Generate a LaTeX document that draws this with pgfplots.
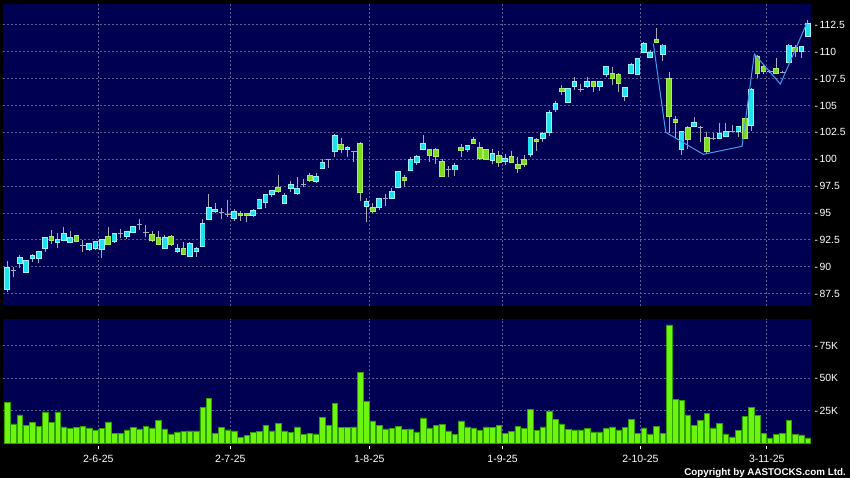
\documentclass[border=0pt]{standalone}
\usepackage{fontspec}
\setmainfont{Liberation Sans}
\usepackage{pgfplots}
\usepackage{pgfplotstable}
\pgfplotsset{compat=1.18}
\definecolor{bgnavy}{RGB}{0,0,82}
\definecolor{gridc}{RGB}{95,95,150}
\definecolor{upc}{RGB}{30,225,240}
\definecolor{upedge}{RGB}{150,245,255}
\definecolor{dnc}{RGB}{125,220,30}
\definecolor{dnedge}{RGB}{170,235,110}
\definecolor{wickc}{RGB}{170,170,180}
\definecolor{volfill}{RGB}{110,245,15}
\definecolor{voledge}{RGB}{45,160,0}
\definecolor{linec}{RGB}{70,155,235}

\pgfplotstableread{
i O H L C t
1 87.89 90.53 87.68 89.94 1
2 89.60 89.94 89.07 89.60 0
3 90.31 91.09 89.85 90.81 1
4 89.44 90.62 89.44 90.53 1
5 90.75 91.18 90.41 91.06 1
6 90.78 91.49 90.31 91.43 1
7 91.68 92.73 91.40 92.70 1
8 92.82 93.40 92.08 92.45 -1
9 92.27 93.10 91.77 92.55 1
10 92.45 93.66 92.38 93.10 1
11 92.27 93.35 92.17 92.73 1
12 92.89 92.95 92.27 92.33 -1
13 91.95 92.48 91.40 91.95 0
14 91.62 92.23 91.49 92.17 1
15 91.68 92.42 91.55 92.36 1
16 91.62 92.54 90.84 92.48 1
17 92.79 93.66 91.99 92.08 -1
18 92.33 93.16 92.24 93.10 1
19 93.07 93.48 92.64 93.07 0
20 92.79 93.29 92.55 93.23 1
21 93.20 93.82 93.10 93.76 1
22 93.88 94.41 93.40 93.88 0
23 93.17 93.88 92.73 93.17 0
24 93.01 93.32 92.33 92.42 -1
25 92.67 93.32 92.02 92.11 -1
26 91.68 92.95 91.62 92.73 1
27 92.82 92.95 91.95 92.05 -1
28 91.40 92.08 91.24 91.71 1
29 91.68 92.27 91.06 91.15 -1
30 90.93 92.27 90.87 92.17 1
31 91.46 91.86 90.93 91.71 1
32 91.86 94.41 91.80 94.03 1
33 94.41 96.76 94.35 95.52 1
34 95.12 95.90 95.03 95.34 1
35 95.03 95.49 94.41 95.03 0
36 94.87 96.20 94.65 94.87 0
37 94.50 95.34 94.25 95.12 1
38 94.90 95.21 94.28 94.75 -1
39 94.90 94.96 94.19 94.75 -1
40 94.75 95.40 94.60 95.18 1
41 95.40 96.26 95.34 96.20 1
42 95.96 96.76 95.43 96.67 1
43 96.73 97.13 96.51 97.07 1
44 97.38 98.53 96.89 96.98 -1
45 95.86 96.89 95.80 96.58 1
46 97.29 97.97 96.98 97.60 1
47 96.79 98.31 96.67 97.23 1
48 97.60 98.16 97.38 97.60 0
49 98.50 98.68 97.91 98.06 -1
50 97.91 98.68 97.75 98.41 1
51 99.18 99.99 99.09 99.65 1
52 99.99 100.00 99.18 99.99 0
53 100.70 102.31 100.24 102.16 1
54 101.38 101.94 100.55 100.92 -1
55 100.92 101.26 100.24 101.07 1
56 100.76 100.76 99.77 100.76 0
57 101.41 101.57 96.14 96.92 -1
58 95.58 96.36 94.19 96.08 1
59 95.46 95.90 94.96 95.12 -1
60 95.49 96.42 95.27 96.36 1
61 96.36 96.76 95.65 96.36 0
62 96.39 97.35 96.33 96.95 1
63 97.38 98.93 97.32 98.81 1
64 98.31 98.53 97.38 98.06 -1
65 98.93 100.24 98.87 99.93 1
66 99.71 100.39 99.46 100.24 1
67 100.92 102.25 100.86 101.48 1
68 100.86 100.92 99.77 100.33 -1
69 100.92 101.01 99.55 100.24 -1
70 99.77 99.99 98.32 98.38 -1
71 99.00 99.37 98.38 99.00 0
72 99.00 99.62 98.47 99.43 1
73 101.10 101.41 100.17 100.79 -1
74 100.92 101.35 100.64 101.29 1
75 101.79 102.03 101.42 101.48 -1
76 101.10 101.57 99.93 100.08 -1
77 100.86 100.95 99.93 100.02 -1
78 99.86 100.92 99.55 100.55 1
79 100.30 100.73 99.30 99.71 -1
80 99.77 100.48 99.46 100.05 1
81 100.24 100.76 99.65 99.71 -1
82 99.52 100.24 98.69 99.12 -1
83 99.99 100.39 99.30 99.52 -1
84 100.45 102.09 100.24 102.03 1
85 101.85 101.94 100.79 101.66 -1
86 101.91 102.56 101.63 102.41 1
87 102.50 104.58 102.16 104.36 1
88 104.58 105.45 104.42 105.14 1
89 106.59 106.90 105.97 106.28 -1
90 105.29 106.59 105.20 106.53 1
91 106.75 107.62 106.44 107.18 1
92 106.53 106.96 106.22 106.53 0
93 106.75 107.68 106.65 107.18 1
94 107.18 107.24 106.22 106.75 -1
95 106.75 107.24 106.34 107.18 1
96 107.90 108.64 107.68 108.58 1
97 107.99 108.55 106.90 107.52 -1
98 107.90 107.99 106.28 107.06 -1
99 105.82 106.75 105.45 106.69 1
100 107.99 108.92 107.93 108.83 1
101 107.90 109.44 107.84 109.38 1
102 109.91 110.93 109.85 110.78 1
103 109.48 110.16 109.39 109.88 1
104 111.09 112.17 110.78 110.84 -1
105 109.76 110.68 109.17 110.62 1
106 107.52 108.08 102.41 103.96 -1
107 103.71 104.00 101.94 103.46 -1
108 100.92 102.62 100.39 102.56 1
109 102.97 103.09 100.92 101.85 -1
110 103.03 103.90 102.97 103.43 1
111 102.97 103.06 101.63 102.97 0
112 102.00 102.56 100.55 100.76 -1
113 101.94 102.47 101.79 101.94 0
114 101.94 103.34 101.85 102.41 1
115 102.16 103.34 102.10 102.56 1
116 102.62 103.18 102.50 102.62 0
117 102.56 103.12 102.10 103.03 1
118 103.77 103.86 101.88 101.94 -1
119 103.18 106.59 102.62 106.50 1
120 109.54 109.69 107.58 107.99 -1
121 108.61 108.76 107.89 108.14 -1
122 108.14 108.30 107.99 108.14 0
123 108.45 109.38 107.93 107.99 -1
124 108.10 108.20 107.99 108.10 0
125 109.01 110.68 108.92 110.62 1
126 110.37 110.62 109.54 109.99 -1
127 109.99 110.56 109.44 110.50 1
128 111.46 112.95 111.40 112.64 1
}\ohlc

\pgfplotstableread{
i V
1 31.5
2 14.9
3 21.8
4 13.8
5 15.9
6 12.8
7 24.1
8 16.2
9 24.1
10 12.6
11 11.3
12 12.1
13 12.8
14 11.8
15 10.0
16 11.3
17 16.4
18 7.4
19 7.4
20 10.3
21 12.3
22 11.0
23 13.1
24 11.8
25 17.9
26 11.0
27 7.2
28 8.7
29 9.2
30 9.5
31 9.5
32 27.7
33 34.4
34 7.9
35 12.3
36 10.3
37 9.5
38 4.4
39 5.9
40 8.5
41 9.2
42 13.8
43 9.5
44 15.6
45 9.5
46 8.5
47 12.6
48 6.7
49 7.4
50 7.2
51 19.7
52 13.8
53 30.8
54 12.1
55 12.1
56 12.6
57 54.4
58 32.3
59 17.2
60 13.6
61 11.0
62 11.3
63 12.8
64 10.5
65 11.0
66 8.7
67 19.5
68 11.8
69 13.8
70 14.6
71 9.5
72 6.9
73 17.2
74 12.6
75 11.8
76 9.7
77 12.6
78 12.1
79 13.6
80 7.9
81 9.2
82 13.1
83 11.3
84 25.9
85 10.0
86 12.6
87 24.9
88 18.2
89 14.9
90 10.8
91 10.3
92 10.3
93 11.3
94 8.7
95 8.7
96 11.3
97 12.6
98 10.3
99 12.3
100 18.5
101 7.9
102 11.8
103 7.2
104 12.8
105 7.9
106 91.0
107 33.8
108 32.8
109 21.8
110 13.8
111 17.7
112 23.1
113 11.8
114 15.1
115 7.2
116 4.9
117 9.7
118 20.5
119 27.9
120 21.3
121 7.9
122 4.1
123 6.9
124 7.7
125 17.4
126 6.9
127 6.4
128 4.1
}\vol

\begin{document}
\begin{tikzpicture}
\fill[black] (0,0) rectangle (850pt,478pt);
\pgfplotsset{
  every axis/.append style={
    scale only axis, anchor=south west,
    xmin=0.413, xmax=128.52,
    axis background/.style={fill=bgnavy},
    axis line style={draw=none},
    xtick={15.45,36.4,58.45,79.6,101.45,121.5},
    grid=major,
    grid style={draw=gridc, line width=0.8pt, dash pattern=on 2pt off 2pt},
    major tick length=0pt,
    tick style={draw=none},
    yticklabel pos=right,
    yticklabel style={text=white, font=\fontsize{10.4}{12}\selectfont, anchor=west},
    /pgf/number format/assume math mode=true,
  },
  candle/.style={draw=none, mark=none, forget plot},
}
% ---------------- price panel ----------------
\begin{axis}[
  at={(3.5pt,172pt)}, width=807.5pt, height=302pt,
  ymin=86.34, ymax=114.44,
  ytick={87.5,90,92.5,95,97.5,100,102.5,105,107.5,110,112.5},
  yticklabel={-\kern1.6pt\pgfmathprintnumber{\tick}},
  xticklabels={},
]
% wicks
\addplot[candle,
  error bars/.cd, y dir=plus, y explicit, error mark=none,
  error bar style={draw=wickc, line width=1pt, solid}]
  table[x=i, y=L, y error plus expr={\thisrow{H}-\thisrow{L}}] {\ohlc};
% doji
\addplot[candle,
  restrict expr to domain={\thisrow{t}}{-0.5:0.5},
  error bars/.cd, x dir=both, x fixed=0.43, error mark=none,
  error bar style={draw=wickc, line width=1pt, solid}]
  table[x=i, y=C] {\ohlc};
% up bodies: edge then fill
\addplot[candle,
  restrict expr to domain={\thisrow{t}}{0.5:1.5},
  error bars/.cd, y dir=plus, y explicit, error mark=none,
  error bar style={draw=upedge, line width=5.6pt, solid}]
  table[x=i, y expr={\thisrow{O}-0.05}, y error plus expr={\thisrow{C}-\thisrow{O}+0.1}] {\ohlc};
\addplot[candle,
  restrict expr to domain={\thisrow{t}}{0.5:1.5},
  error bars/.cd, y dir=plus, y explicit, error mark=none,
  error bar style={draw=upc, line width=3.8pt, solid}]
  table[x=i, y expr={\thisrow{O}+0.04}, y error plus expr={max(\thisrow{C}-\thisrow{O}-0.08,0.01)}] {\ohlc};
% down bodies: edge then fill
\addplot[candle,
  restrict expr to domain={\thisrow{t}}{-1.5:-0.5},
  error bars/.cd, y dir=plus, y explicit, error mark=none,
  error bar style={draw=dnedge, line width=5.6pt, solid}]
  table[x=i, y expr={\thisrow{C}-0.05}, y error plus expr={\thisrow{O}-\thisrow{C}+0.1}] {\ohlc};
\addplot[candle,
  restrict expr to domain={\thisrow{t}}{-1.5:-0.5},
  error bars/.cd, y dir=plus, y explicit, error mark=none,
  error bar style={draw=dnc, line width=3.8pt, solid}]
  table[x=i, y expr={\thisrow{C}+0.04}, y error plus expr={max(\thisrow{O}-\thisrow{C}-0.08,0.01)}] {\ohlc};
% overlay line
\addplot[draw=linec, line width=1pt, mark=none] coordinates {
  (103.51,110.78) (105.47,102.5) (111.44,100.45) (117.58,101.2)
  (119.53,109.79) (123.66,106.99) (127.84,112.64)};
\end{axis}
% ---------------- volume panel ----------------
\begin{axis}[
  at={(3.5pt,34.7pt)}, width=807.5pt, height=124.3pt,
  ymin=0, ymax=95.6,
  ytick={25,50,75},
  yticklabels={-\kern1.6pt 25K, -\kern1.6pt 50K, -\kern1.6pt 75K},
  xticklabels={
    {\rule{0.8pt}{3pt}\\2-6-25},
    {\rule{0.8pt}{3pt}\\2-7-25},
    {\rule{0.8pt}{3pt}\\1-8-25},
    {\rule{0.8pt}{3pt}\\1-9-25},
    {\rule{0.8pt}{3pt}\\2-10-25},
    {\rule{0.8pt}{3pt}\\3-11-25}},
  xticklabel style={text=white, font=\fontsize{10.5}{13.5}\selectfont,
    align=center, inner sep=0pt, anchor=north, yshift=-3pt},
]
\addplot[ybar, bar width=5.6pt, bar shift=0pt, fill=volfill, draw=voledge, line width=0.6pt]
  table[x=i, y=V] {\vol};
\end{axis}
\node[anchor=base east, text=white, font=\bfseries\fontsize{9.8}{11}\selectfont, inner sep=0pt]
  at (846pt,2.5pt) {Copyright by AASTOCKS.com Ltd.};
\pgfresetboundingbox
\useasboundingbox (0,0) rectangle (850pt,478pt);
\end{tikzpicture}
\end{document}
